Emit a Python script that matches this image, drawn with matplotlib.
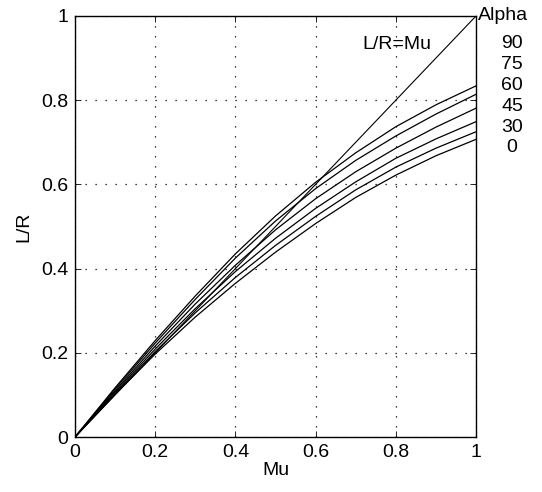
import numpy as np
import matplotlib.pyplot as plt

plt.rcParams['font.family'] = ['Liberation Sans', 'DejaVu Sans']

mu = [0, 0.1, 0.2, 0.3, 0.4, 0.5, 0.6, 0.7, 0.8, 0.9, 1.0]
alphas = [90, 75, 60, 45, 30, 0]
lr = {
    90: [0, 0.117, 0.229, 0.335, 0.435, 0.525, 0.605, 0.675, 0.737, 0.789, 0.834],
    75: [0, 0.114, 0.223, 0.327, 0.425, 0.513, 0.590, 0.657, 0.715, 0.767, 0.814],
    60: [0, 0.110, 0.216, 0.316, 0.408, 0.492, 0.566, 0.630, 0.686, 0.736, 0.781],
    45: [0, 0.107, 0.209, 0.305, 0.393, 0.472, 0.543, 0.606, 0.662, 0.708, 0.749],
    30: [0, 0.104, 0.203, 0.295, 0.379, 0.455, 0.524, 0.587, 0.641, 0.686, 0.725],
    0:  [0, 0.101, 0.197, 0.285, 0.365, 0.439, 0.507, 0.569, 0.622, 0.668, 0.707],
}
ticks = [0, 0.2, 0.4, 0.6, 0.8, 1]
tick_labels = ['0', '0.2', '0.4', '0.6', '0.8', '1']
fs = 14

fig = plt.figure(figsize=(5.42, 4.92), dpi=100)
ax = fig.add_axes([75/542, 55/492, 401/542, 421/492])

ax.plot([0, 1], [0, 1], color='black', lw=0.8)
for a in alphas:
    ax.plot(mu, lr[a], color='black', lw=0.9)

ax.set_xlim(0, 1)
ax.set_ylim(0, 1)
ax.set_xticks(ticks)
ax.set_yticks(ticks)
ax.set_xticklabels(tick_labels)
ax.set_yticklabels(tick_labels)
ax.tick_params(direction='in', top=True, right=True, length=4, width=0.6,
               labelsize=fs, pad=5)
ax.grid(True, color='black', linestyle=(0, (1, 7)), linewidth=0.9)
for s in ax.spines.values():
    s.set_linewidth(1)

ax.set_xlabel('Mu', fontsize=fs, labelpad=1)
ax.set_ylabel('L/R', fontsize=fs, labelpad=6)

ax.text(0.717, 0.933, 'L/R=Mu', fontsize=fs, va='center', ha='left')
ax.text(1.005, 1.0, 'Alpha', fontsize=fs, va='center', ha='left',
        transform=ax.transAxes)
ys = [0.935, 0.885, 0.835, 0.785, 0.735, 0.687]
for a, y in zip(alphas, ys):
    ax.text(1.09, y, str(a), fontsize=fs, va='center', ha='center',
            transform=ax.transAxes)

fig.savefig('out.png', dpi=100)
